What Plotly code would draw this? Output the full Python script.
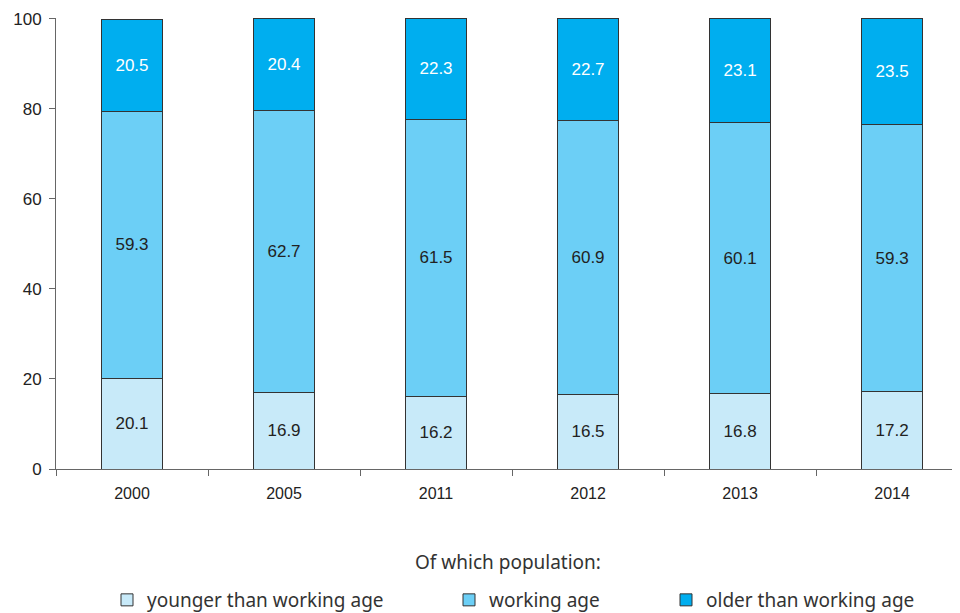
import plotly.graph_objects as go

years = ["2000", "2005", "2011", "2012", "2013", "2014"]
younger = [20.1, 16.9, 16.2, 16.5, 16.8, 17.2]
working = [59.3, 62.7, 61.5, 60.9, 60.1, 59.3]
older = [20.5, 20.4, 22.3, 22.7, 23.1, 23.5]

# name, values, fill, label colour, legend id, legend text x (page px)
series = [
    ("younger than working age", younger, "#c8eaf9", "#222222", "legend", 148),
    ("working age", working, "#6ccff6", "#222222", "legend2", 490),
    ("older than working age", older, "#00aeef", "#ffffff", "legend3", 707),
]

TICK_FONT = "Liberation Sans Narrow, Liberation Sans, Arial, sans-serif"
LEGEND_FONT = "Noto Sans, Open Sans, sans-serif"
# the page body adds 8px around the figure
W, H = 952, 605

fig = go.Figure()
legends = {}
for name, values, color, text_color, legend_id, text_x in series:
    fig.add_trace(
        go.Bar(
            x=years,
            y=values,
            name=name,
            legend=legend_id,
            width=0.4,
            marker={"color": color, "line": {"color": "#333333", "width": 1}},
            text=[f"{v:.1f}" for v in values],
            textposition="inside",
            insidetextanchor="middle",
            textangle=0,
            constraintext="none",
            textfont={"family": TICK_FONT, "size": 17, "color": text_color},
            cliponaxis=False,
        )
    )
    legends[legend_id] = {
        "orientation": "h",
        "xref": "container",
        "yref": "container",
        "x": (text_x - 8 - 41) / W,
        "xanchor": "left",
        "y": 13 / H,
        "yanchor": "middle",
        "font": {"family": LEGEND_FONT, "size": 19, "color": "#333333"},
        "bgcolor": "rgba(0,0,0,0)",
    }

fig.update_layout(
    barmode="stack",
    width=W,
    height=H,
    margin={"l": 48, "r": 0, "t": 10, "b": 144},
    paper_bgcolor="white",
    plot_bgcolor="white",
    showlegend=True,
    **legends,
)
fig.add_annotation(
    text="Of which population:",
    xref="paper",
    yref="paper",
    x=0.5,
    y=-0.206,
    xanchor="center",
    yanchor="middle",
    showarrow=False,
    font={"family": LEGEND_FONT, "size": 19, "color": "#333333"},
)
fig.update_xaxes(
    type="category",
    range=[-0.5, 5.447],
    automargin=False,
    showline=True,
    linecolor="#666666",
    linewidth=1,
    ticks="outside",
    tickson="boundaries",
    ticklen=6,
    tickcolor="#666666",
    ticklabelstandoff=10,
    showgrid=False,
    tickfont={"family": TICK_FONT, "size": 16, "color": "#222222"},
)
fig.update_yaxes(
    range=[0, 100.15],
    tickvals=[0, 20, 40, 60, 80, 100],
    automargin=False,
    showline=True,
    linecolor="#666666",
    linewidth=1,
    ticks="outside",
    ticklen=6,
    tickcolor="#666666",
    ticklabelstandoff=4,
    showgrid=False,
    zeroline=False,
    tickfont={"family": TICK_FONT, "size": 17, "color": "#222222"},
)

fig.write_html("out.html")
